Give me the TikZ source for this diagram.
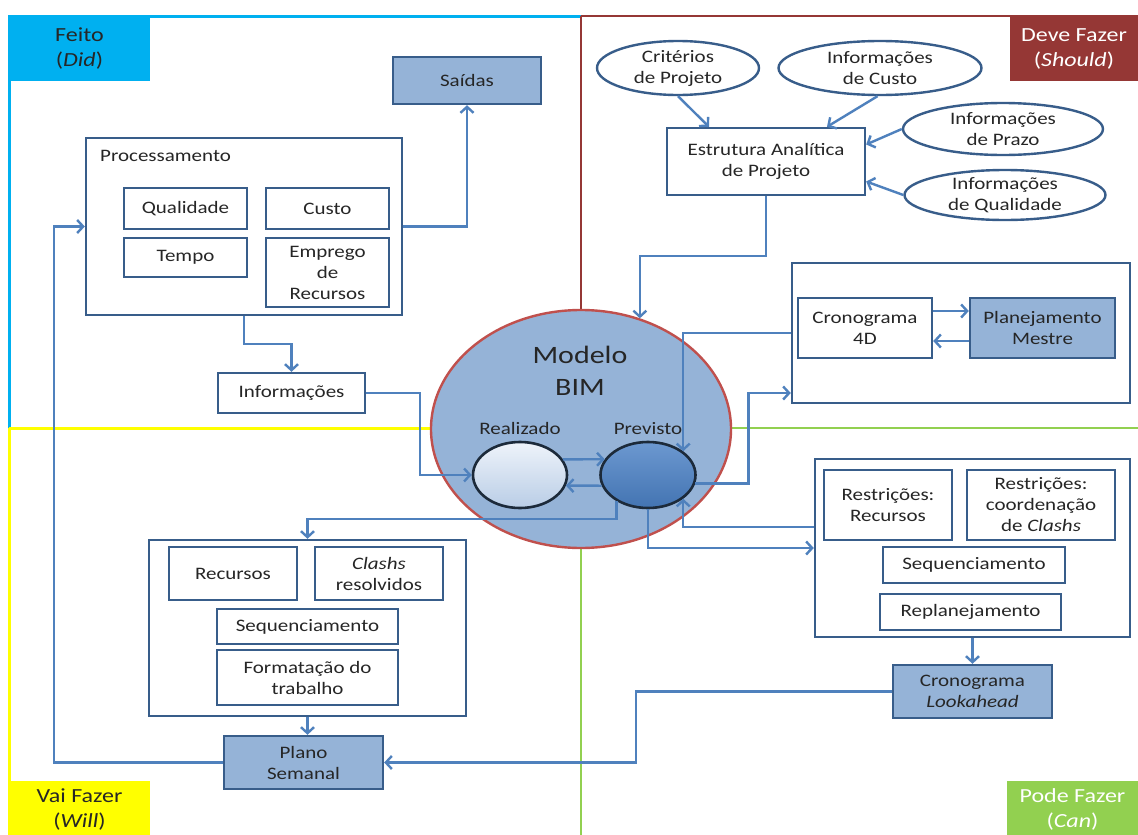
\documentclass[tikz,border=0pt]{standalone}
\usepackage{fontspec}
\setmainfont{Carlito}[FakeStretch=1.2]
\usetikzlibrary{arrows.meta,shapes.geometric}
\definecolor{boxc}{HTML}{385D8A}
\definecolor{fillc}{HTML}{95B3D7}
\definecolor{arrc}{HTML}{4F81BD}
\definecolor{txt}{HTML}{262626}
\definecolor{cyanq}{HTML}{00B0F0}
\definecolor{redq}{HTML}{953735}
\definecolor{yelq}{HTML}{FFFF00}
\definecolor{grnq}{HTML}{92D050}
\definecolor{bimred}{HTML}{C0504D}
\definecolor{rim}{HTML}{1C2A3A}
\definecolor{realtop}{HTML}{EEF3FA}
\definecolor{realbot}{HTML}{B9CDE6}
\definecolor{prevtop}{HTML}{6C98D0}
\definecolor{prevbot}{HTML}{4374B2}
\begin{document}
\begin{tikzpicture}[x=1pt,y=-1pt,
  sz/.style 2 args={minimum width=#1pt,minimum height=#2pt},
  box/.style={draw=boxc,line width=2.4pt,fill=white,align=center,inner sep=0pt,
    text=txt,font=\fontsize{17.5}{21}\selectfont},
  fbox/.style={box,fill=fillc},
  oval/.style={box,ellipse},
  plain/.style={inner sep=0pt,align=center,text=txt,font=\fontsize{17.5}{21}\selectfont},
  tag/.style={inner sep=0pt,align=center,font=\fontsize{20}{25}\selectfont},
  arr/.style={draw=arrc,line width=2.4pt,-{Straight Barb[length=6pt,width=13pt]}},
]
\useasboundingbox (0,0) rectangle (1138,835);
\fill[white] (0,0) rectangle (1138,835);

% quadrant frames
\draw[cyanq,line width=3pt] (9,428) -- (9,16) -- (581,16);
\draw[redq,line width=2.4pt] (581,16) -- (1138,16);
\draw[redq,line width=2.4pt] (581,16) -- (581,429);
\draw[yelq,line width=3pt] (9,428) -- (581,428);
\draw[yelq,line width=3pt] (9,428) -- (9,835);
\draw[grnq,line width=2.6pt] (581,428) -- (1138,428);
\draw[grnq,line width=2.6pt] (581,428) -- (581,835);

% quadrant tags
\node[tag,fill=cyanq,text=txt,sz={141}{64}] (lfeito) at (79.5,49) {Feito\\(\textit{Did})};
\node[tag,fill=redq,text=white,sz={128}{64}] (ldeve) at (1074,49) {Deve Fazer\\(\textit{Should})};
\node[tag,fill=yelq,text=txt,sz={141}{56}] (lvai) at (79.5,809) {Vai Fazer\\(\textit{Will})};
\node[tag,fill=grnq,text=white,sz={131}{56}] (lpode) at (1072.5,809) {Pode Fazer\\(\textit{Can})};

% central BIM model
\node[ellipse,draw=bimred,line width=2.4pt,fill=fillc,sz={300}{238},inner sep=0pt] (bim) at (581,429) {};
\node[plain,font=\fontsize{25}{32}\selectfont] (bimlbl) at (580,371) {Modelo\\BIM};
\node[plain] (reallbl) at (520,428) {Realizado};
\node[plain] (prevlbl) at (648,429) {Previsto};
\node[ellipse,draw=rim,line width=2.6pt,top color=realtop,bottom color=realbot,
  sz={94}{66},inner sep=0pt] (real) at (520,475) {};
\node[ellipse,draw=rim,line width=2.6pt,top color=prevtop,bottom color=prevbot,
  sz={95}{66},inner sep=0pt] (prev) at (648,475) {};

% Feito
\node[fbox,sz={148}{47}] (said) at (467,80.5) {Saídas};
\node[box,sz={316}{177}] (proc) at (244,226.5) {};
\node[plain,anchor=west] (proclbl) at (100,156) {Processamento};
\node[box,sz={123}{41}] (qual) at (185.5,208.5) {Qualidade};
\node[box,sz={123}{41}] (custo) at (327.5,208.5) {Custo};
\node[box,sz={123}{39}] (tempo) at (185.5,257.5) {Tempo};
\node[box,sz={123}{69}] (empr) at (327.5,272.5) {Emprego\\de\\Recursos};
\node[box,sz={147}{40}] (info) at (291.5,393) {Informações};

% Deve Fazer
\node[oval,sz={162}{54}] (crit) at (678,68) {Critérios\\de Projeto};
\node[oval,sz={203}{54}] (icusto) at (880,68) {Informações\\de Custo};
\node[oval,sz={200}{52}] (prazo) at (1003,129) {Informações\\de Prazo};
\node[oval,sz={201}{50}] (iqual) at (1005,195) {Informações\\de Qualidade};
\node[box,sz={198}{67}] (eap) at (766,161.5) {Estrutura Analítica\\de Projeto};
\node[box,sz={338}{140}] (mast) at (961,333) {};
\node[box,sz={134}{60}] (c4d) at (865,328) {Cronograma\\4D};
\node[fbox,sz={145}{60}] (mestre) at (1042.5,328) {Planejamento\\Mestre};

% Vai Fazer
\node[box,sz={317}{176}] (will) at (307.5,628) {};
\node[box,sz={128}{53}] (recur) at (233,573.5) {Recursos};
\node[box,sz={128}{53}] (clash) at (379,573.5) {\textit{Clashs}\\resolvidos};
\node[box,sz={181}{35}] (seqw) at (307.5,626.5) {Sequenciamento};
\node[box,sz={181}{55}] (form) at (307.5,677.5) {Formatação do\\trabalho};
\node[fbox,sz={159}{53}] (plano) at (303.5,762.5) {Plano\\Semanal};

% Pode Fazer
\node[box,sz={315}{178}] (can) at (972.5,548) {};
\node[box,sz={128}{70}] (rrec) at (888,505) {Restrições:\\Recursos};
\node[box,sz={148}{70}] (rcla) at (1041,505) {Restrições:\\coordenação\\de \textit{Clashs}};
\node[box,sz={182}{36}] (seqc) at (974,565) {Sequenciamento};
\node[box,sz={181}{36}] (repl) at (970.5,612) {Replanejamento};
\node[fbox,sz={159}{53}] (look) at (972.5,691.5) {Cronograma\\\textit{Lookahead}};

% connectors
\draw[arr] (proc.east) -| (said.south);
\draw[arr] (proc.south) -- ++(0,28) -| (info.north);
\draw[arr] (info.east) -- ++(54,0) |- (real.west);
\draw[arr] (plano.west) -- ++(-169,0) |- (proc.west);
\draw[arr] (prev.220) -- ++(0,18) -| (will.north);
\draw[arr] (will.south) -- (will.south |- plano.north);
\draw[arr] (look.west) -- ++(-256,0) |- (plano.east);
\draw[arr] (prev.south) |- (can.west);
\draw[arr] ([yshift=21pt]can.west) -| (prev.-34);
\draw[arr] (prev.-10) -- ++(53,0) |- ([yshift=-60pt]mast.west);
\draw[arr] (mast.west) -| (prev.34);
\draw[arr] (eap.south) -- ++(0,60) -| (bim.62);
\draw[arr] (crit.south) -- ([xshift=-57pt]eap.north);
\draw[arr] (icusto.265) -- ([xshift=61pt]eap.north);
\draw[arr] (prazo.west) -- ([yshift=17pt]eap.east);
\draw[arr] (iqual.west) -- ([yshift=-20pt]eap.east);
\draw[arr] ([yshift=17pt]c4d.east) -- ([yshift=17pt]mestre.west);
\draw[arr] ([yshift=-13pt]mestre.west) -- ([yshift=-13pt]c4d.east);
\draw[arr] (can.south) -- (look.north);
\draw[arr] (real.20) -- (prev.160);
\draw[arr] (prev.193) -- (real.-13);
\end{tikzpicture}
\end{document}
